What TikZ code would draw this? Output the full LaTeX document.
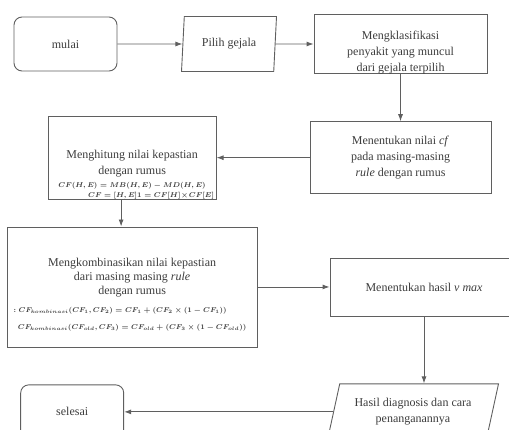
\documentclass[tikz,border=0pt]{standalone}
\usepackage{amsmath}
\usepackage{fontspec}
\setmainfont{Liberation Serif}
\usepackage{tikz}
\usetikzlibrary{positioning, arrows.meta, shapes.geometric}

\definecolor{garis}{RGB}{95,95,95}
\definecolor{tulisan}{RGB}{60,60,60}
\newcommand{\rumus}[1]{{\fontsize{6.6}{9}\selectfont\boldmath$#1$}}
\newcommand{\sub}[1]{_{\scriptscriptstyle #1}}
% teks rata bawah di dalam kotak setinggi #2
\newcommand{\tekbawah}[3]{\parbox[c][#2][b]{#1}{\centering #3}}
% menurunkan teks di dalam kotak tanpa mengubah ukuran kotak
\newcommand{\turun}[2]{\raisebox{-#1}[\height][\depth]{\begin{tabular}{@{}c@{}}#2\end{tabular}}}

\tikzset{
every node/.style={font=\fontsize{12}{16}\selectfont, text=tulisan}, % teks biasa
kotak/.style={draw=garis, line width=0.9pt, rectangle, align=center, inner xsep=2pt, inner ysep=0pt},
terminal/.style={draw=garis, line width=0.9pt, rounded corners=8pt, minimum width=103pt, minimum height=54pt},
masukan/.style={draw=garis, line width=0.9pt, trapezium, trapezium stretches body, align=center},
panah/.style={draw=garis, line width=0.9pt, -{Latex[length=7pt,width=5pt]}},
}

\begin{document}
\begin{tikzpicture}[x=1pt, y=-1pt]
\useasboundingbox (0,0) rectangle (509,430);
\clip (0,0) rectangle (509,430);

\node[terminal] (mulai) at (65.5,44) {mulai};
\node[masukan, trapezium left angle=81, trapezium right angle=99,
  minimum width=95pt, minimum height=55pt, right=65pt of mulai] (pilih) {Pilih gejala};
\node[kotak, minimum width=173pt, minimum height=57pt, right=38pt of pilih] (klasifikasi)
  {\tekbawah{169pt}{57pt}{Mengklasifikasi\\penyakit yang muncul\\dari gejala terpilih}};
\node[kotak, minimum width=181pt, minimum height=72pt, below=47pt of klasifikasi] (nilaicf)
  {Menentukan nilai \textit{cf}\\pada masing-masing\\\textit{rule} dengan rumus};
\node[kotak, minimum width=168pt, minimum height=82pt, left=93pt of nilaicf] (hitung)
  {\tekbawah{164pt}{81pt}{Menghitung nilai kepastian\\dengan rumus\\[-3pt]
   \rumus{CF(H,E) = MB(H,E) - MD(H,E)}\\[-6pt]
   \hspace*{38pt}\rumus{CF = [H,E]1 = CF[H] \times CF[E]}}};
\node[kotak, minimum width=250pt, minimum height=120pt, below=27pt of hitung] (kombinasi)
  {\turun{8pt}{Mengkombinasikan nilai kepastian\\[-2pt]dari masing masing \textit{rule}\\[-2pt]dengan rumus\\[2pt]
   \rumus{:CF\sub{kombinasi}(CF_1,CF_2) = CF_1 + (CF_2 \times (1 - CF_1))}\hspace*{24pt}\\[1pt]
   \rumus{CF\sub{kombinasi}(CF\sub{old},CF_3) = CF\sub{old} + (CF_3 \times (1 - CF\sub{old}))}}};
\node[kotak, minimum width=188pt, minimum height=58pt, right=72pt of kombinasi] (vmax)
  {Menentukan hasil \textit{v max}};
\node[masukan, trapezium left angle=70, trapezium right angle=110,
  minimum width=171pt, minimum height=56pt, below=67pt of vmax, xshift=-11pt] (hasil)
  {Hasil diagnosis dan cara\\penanganannya};
\node[terminal, left=209pt of hasil] (selesai) {selesai};

\draw[panah] (mulai) -- (pilih);
\draw[panah] (pilih) -- (klasifikasi);
\draw[panah] (klasifikasi.south) -- (klasifikasi.south |- nilaicf.north);
\draw[panah] (nilaicf.west) -- (nilaicf.west -| hitung.east);
\draw[panah] ([xshift=-11pt]hitung.south) -- ([xshift=-11pt]hitung.south |- kombinasi.north);
\draw[panah] (kombinasi.east) -- (kombinasi.east -| vmax.west);
\draw[panah] (vmax.south) -- (vmax.south |- hasil.north);
\draw[panah] (hasil.west) -- (hasil.west -| selesai.east);
\end{tikzpicture}
\end{document}
